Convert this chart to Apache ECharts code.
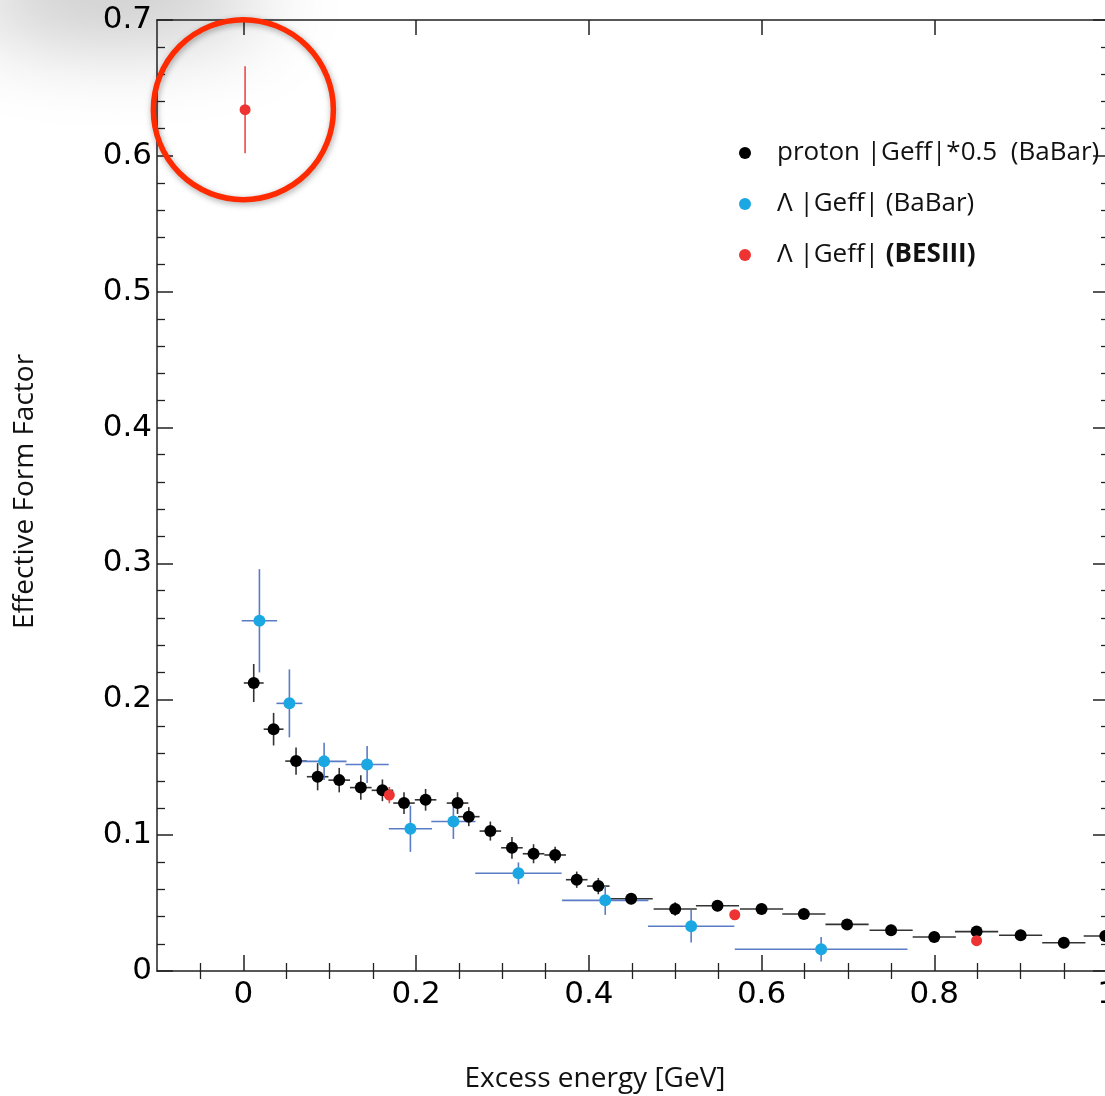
<!DOCTYPE html>
<html>
<head>
<meta charset="utf-8">
<script src="https://cdn.jsdelivr.net/npm/echarts@6/dist/echarts.min.js"></script>
<style>
  html, body { margin: 0; padding: 0; background: #fff; }
  #chart { width: 1105px; height: 1096px; }
</style>
</head>
<body>
<div id="chart"></div>
<script>
// proton |Geff|*0.5 (BaBar)
var protonX = [0.012, 0.035, 0.061, 0.086, 0.111, 0.136, 0.161, 0.186, 0.211, 0.248, 0.261, 0.286, 0.311, 0.336, 0.361, 0.386, 0.411,
  0.449, 0.500, 0.549, 0.600, 0.649, 0.699, 0.750, 0.800, 0.849, 0.900, 0.950, 0.998]
var protonY = [0.212, 0.178, 0.1545, 0.143, 0.1405, 0.135, 0.133, 0.1236, 0.126, 0.1236, 0.1136, 0.103, 0.0907, 0.0863, 0.0854, 0.0672, 0.0625,
  0.0532, 0.0456, 0.048, 0.0456, 0.042, 0.0343, 0.030, 0.025, 0.029, 0.0263, 0.0208, 0.0258]
var protonXErr = [0.0115, 0.0115, 0.0125, 0.0125, 0.0125, 0.0125, 0.0125, 0.0125, 0.0125, 0.0125, 0.0125, 0.0125, 0.0125, 0.0125, 0.0125, 0.0125, 0.013,
  0.025, 0.025, 0.025, 0.025, 0.025, 0.025, 0.025, 0.025, 0.025, 0.025, 0.025, 0.025]
var protonYErr = [0.014, 0.012, 0.010, 0.010, 0.009, 0.009, 0.008, 0.008, 0.008, 0.008, 0.007, 0.007, 0.008, 0.007, 0.006, 0.006, 0.006,
  0.004, 0.005, 0.004, 0.004, 0.004, 0.004, 0.004, 0.004, 0.004, 0.004, 0.004, 0.004]

// Lambda |Geff| (BaBar)
var lambdaX = [0.0186, 0.0533, 0.0935, 0.1433, 0.1934, 0.2432, 0.3185, 0.419, 0.5185, 0.669]
var lambdaY = [0.2578, 0.197, 0.1543, 0.152, 0.1047, 0.110, 0.0719, 0.052, 0.0329, 0.016]
var lambdaXErr = [0.0205, 0.015, 0.026, 0.025, 0.025, 0.0256, 0.05, 0.05, 0.05, 0.1]
var lambdaYErr = [0.038, 0.025, 0.0137, 0.0136, 0.017, 0.0128, 0.008, 0.0107, 0.012, 0.009]

// Lambda |Geff| (BESIII)
var besX = [0.002, 0.169, 0.569, 0.849]
var besY = [0.634, 0.1295, 0.0414, 0.0223]
var besYErr = [0.032, 0.006, 0, 0]

var xMajorTicks = [0, 0.2, 0.4, 0.6, 0.8, 1.0]
var xMinorTicks = [-0.05, 0.05, 0.1, 0.15, 0.25, 0.3, 0.35, 0.45, 0.5, 0.55, 0.65, 0.7, 0.75, 0.85, 0.9, 0.95]

var names = ['proton |Geff|*0.5  (BaBar)', 'Λ |Geff| (BaBar)', 'Λ |Geff| (BESIII)']
var highlight = [0.0, 0.634] // centre of the red annotation ring

function zip(xs, ys, exs, eys) {
  return xs.map(function (x, i) { return [x, ys[i], exs ? exs[i] : 0, eys ? eys[i] : 0] })
}

function errorBars(color) {
  return function (params, api) {
    var x = api.value(0), y = api.value(1), ex = api.value(2), ey = api.value(3)
    var children = []
    var style = { stroke: color, lineWidth: 1.6 }
    if (ex > 0) {
      var a = api.coord([x - ex, y]), b = api.coord([x + ex, y])
      children.push({ type: 'line', shape: { x1: a[0], y1: a[1], x2: b[0], y2: b[1] }, style: style })
    }
    if (ey > 0) {
      var c = api.coord([x, y - ey]), d = api.coord([x, y + ey])
      children.push({ type: 'line', shape: { x1: c[0], y1: c[1], x2: d[0], y2: d[1] }, style: style })
    }
    return { type: 'group', children: children }
  }
}

var sansTick = 'DejaVu Sans'
var sansText = 'Open Sans'
var axisColor = '#222'

var chart = echarts.init(document.getElementById('chart'))
chart.setOption({
  animation: false,
  backgroundColor: '#fff',
  grid: { left: 157, right: -2, top: 20, bottom: 125, containLabel: false, outerBoundsMode: 'none' },
  legend: {
    orient: 'vertical',
    left: 734,
    top: 132,
    itemWidth: 54,
    itemHeight: 12,
    itemGap: 19,
    icon: 'circle',
    data: names,
    formatter: function (name) {
      if (name === names[2]) return 'Λ |Geff| {b|(BESIII)}'
      return name
    },
    textStyle: {
      fontFamily: sansText, fontSize: 26, color: '#111', lineHeight: 32,
      rich: { b: { fontFamily: sansText, fontSize: 26, fontWeight: 'bold', color: '#111', lineHeight: 32 } }
    }
  },
  xAxis: [{
    type: 'value', min: -0.1, max: 1.0, position: 'bottom',
    name: 'Excess energy [GeV]', nameLocation: 'middle', nameGap: 94,
    nameTextStyle: { fontFamily: sansText, fontSize: 28, color: '#111', padding: [0, 74, 0, 0] },
    axisLine: { show: true, onZero: false, lineStyle: { color: axisColor, width: 1.5 } },
    axisTick: { show: true, inside: true, length: 16, customValues: xMajorTicks, lineStyle: { color: axisColor, width: 1.5 } },
    axisLabel: { customValues: xMajorTicks, margin: 8, fontFamily: sansTick, fontSize: 31, color: '#000',
      formatter: function (v) { return String(Math.round(v * 10) / 10) } },
    splitLine: { show: false }
  }, {
    type: 'value', min: -0.1, max: 1.0, position: 'bottom',
    axisLine: { show: false },
    axisTick: { show: true, inside: true, length: 8, customValues: xMinorTicks, lineStyle: { color: axisColor, width: 1.3 } },
    axisLabel: { show: false }, splitLine: { show: false }
  }, {
    type: 'value', min: -0.1, max: 1.0, position: 'top',
    axisLine: { show: true, onZero: false, lineStyle: { color: axisColor, width: 1.5 } },
    axisTick: { show: true, inside: true, length: 15, customValues: xMajorTicks, lineStyle: { color: axisColor, width: 1.5 } },
    axisLabel: { show: false }, splitLine: { show: false }
  }, {
    type: 'value', min: -0.1, max: 1.0, position: 'top',
    axisLine: { show: false },
    axisTick: { show: true, inside: true, length: 8, customValues: xMinorTicks, lineStyle: { color: axisColor, width: 1.3 } },
    axisLabel: { show: false }, splitLine: { show: false }
  }],
  yAxis: [{
    type: 'value', min: 0, max: 0.7, interval: 0.1, position: 'left',
    name: 'Effective Form Factor', nameLocation: 'middle', nameGap: 118,
    nameTextStyle: { fontFamily: sansText, fontSize: 28, color: '#111', padding: [0, 0, 0, 8] },
    axisLine: { show: true, onZero: false, lineStyle: { color: axisColor, width: 1.5 } },
    axisTick: { show: true, inside: true, length: 16, lineStyle: { color: axisColor, width: 1.5 } },
    minorTick: { show: true, splitNumber: 5, length: 8, lineStyle: { color: axisColor, width: 1.3 } },
    axisLabel: { margin: 5, fontFamily: sansTick, fontSize: 31, color: '#000',
      formatter: function (v) { return String(Math.round(v * 10) / 10) } },
    splitLine: { show: false }
  }, {
    type: 'value', min: 0, max: 0.7, interval: 0.1, position: 'right',
    axisLine: { show: true, onZero: false, lineStyle: { color: axisColor, width: 1.5 } },
    axisTick: { show: true, inside: true, length: 14, lineStyle: { color: axisColor, width: 1.5 } },
    minorTick: { show: true, splitNumber: 5, length: 6, lineStyle: { color: axisColor, width: 1.3 } },
    axisLabel: { show: false }, splitLine: { show: false }
  }],
  series: [{
    type: 'custom', name: 'protonErr', renderItem: errorBars('#333'), clip: true,
    encode: { x: 0, y: 1 }, data: zip(protonX, protonY, protonXErr, protonYErr), z: 2
  }, {
    type: 'custom', name: 'lambdaErr', renderItem: errorBars('#5a7cc6'), clip: true,
    encode: { x: 0, y: 1 }, data: zip(lambdaX, lambdaY, lambdaXErr, lambdaYErr), z: 3
  }, {
    type: 'custom', name: 'besErr', renderItem: errorBars('#ef4a4a'), clip: true,
    encode: { x: 0, y: 1 }, data: zip(besX, besY, null, besYErr), z: 4
  }, {
    type: 'scatter', name: names[0], symbol: 'circle', symbolSize: 12, clip: true,
    itemStyle: { color: '#000', opacity: 1 }, data: zip(protonX, protonY), z: 5
  }, {
    type: 'scatter', name: names[1], symbol: 'circle', symbolSize: 12, clip: true,
    itemStyle: { color: '#1ba8e2', opacity: 1 }, data: zip(lambdaX, lambdaY), z: 6
  }, {
    type: 'scatter', name: names[2], symbol: 'circle', symbolSize: 11, clip: true,
    itemStyle: { color: '#ee3333', opacity: 1 }, data: zip(besX, besY), z: 7
  }]
})

var c = chart.convertToPixel({ xAxisIndex: 0, yAxisIndex: 0 }, highlight)
chart.setOption({
  graphic: [{
    // soft grey drop shadow in the top-left corner, cast from an ellipse placed off-canvas
    type: 'ellipse', silent: true, z: -10,
    shape: { cx: 115, cy: -300, rx: 150, ry: 38 },
    style: { fill: 'rgba(0,0,0,0.4)', shadowBlur: 90, shadowColor: 'rgba(0,0,0,0.7)', shadowOffsetX: 0, shadowOffsetY: 295 }
  }, {
    type: 'circle', silent: true, z: 100,
    shape: { cx: c[0], cy: c[1], r: 90 },
    style: { fill: 'none', stroke: '#ff2a00', lineWidth: 5.5, shadowBlur: 6, shadowColor: 'rgba(0,0,0,0.35)', shadowOffsetX: 1, shadowOffsetY: 2 }
  }]
})
</script>
</body>
</html>
